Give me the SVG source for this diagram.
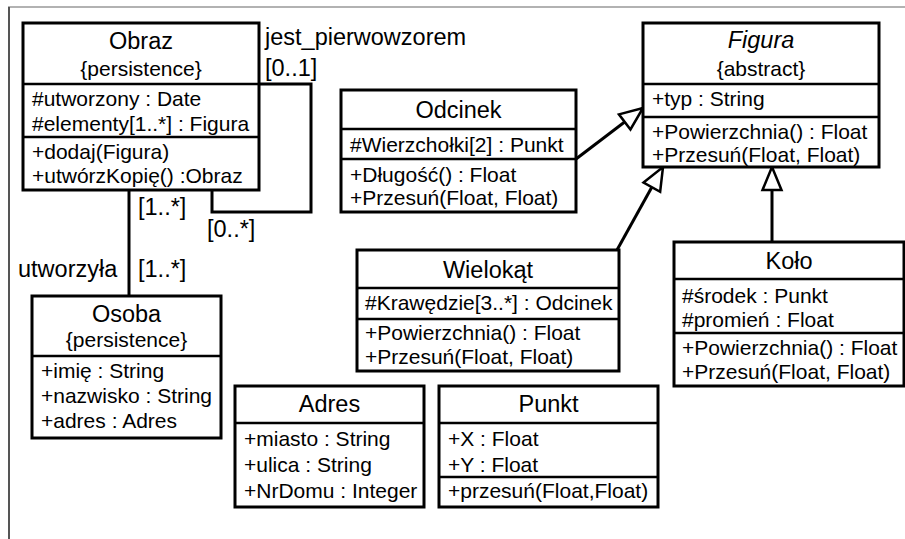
<svg xmlns="http://www.w3.org/2000/svg" width="905" height="539" viewBox="0 0 905 539">
<style>
.box{fill:#fff;stroke:#000;stroke-width:3}
.sep{stroke:#000;stroke-width:2.5}
.t{font-family:"Liberation Sans",Arial,sans-serif;font-size:21px;fill:#000}
.ti{font-size:23.5px;text-anchor:middle}
.c{text-anchor:middle}
.lb{font-size:23.5px}
.con{fill:none;stroke:#000;stroke-width:3}
</style>
<defs>
<marker id="gen" markerUnits="userSpaceOnUse" markerWidth="28" markerHeight="24" viewBox="0 0 28 24" refX="25" refY="12" orient="auto">
<path d="M2,2.5 L25,12 L2,21.5 Z" fill="#fff" stroke="#000" stroke-width="2.5" stroke-linejoin="miter"/>
</marker>
</defs>
<rect width="905" height="539" fill="#fff"/>
<g id="frame">
<line x1="8" y1="7" x2="905" y2="7" stroke="#999" stroke-width="1.5"/>
<line x1="9" y1="7" x2="9" y2="539" stroke="#555" stroke-width="2"/>
</g>
<g id="connectors">
<polyline class="con" points="259,84 311,84 311,212 212,212 212,190"/>
<line class="con" x1="129" y1="190" x2="129" y2="296"/>
<line class="con" x1="576" y1="159" x2="643" y2="108" marker-end="url(#gen)"/>
<line class="con" x1="617" y1="250" x2="663" y2="167" marker-end="url(#gen)"/>
<line class="con" x1="772" y1="242" x2="772" y2="167" marker-end="url(#gen)"/>
<text class="t lb" x="265" y="45">jest_pierwowzorem</text>
<text class="t lb" x="265" y="76">[0..1]</text>
<text class="t lb" x="138" y="215">[1..*]</text>
<text class="t lb" x="207" y="237">[0..*]</text>
<text class="t lb" x="18" y="277">utworzyła</text>
<text class="t lb" x="138" y="277">[1..*]</text>
</g>
<g id="Obraz">
<rect class="box" x="23" y="23" width="236" height="167"/>
<line class="sep" x1="23" y1="84" x2="259" y2="84"/>
<line class="sep" x1="23" y1="137" x2="259" y2="137"/>
<text class="t ti" x="141" y="49">Obraz</text>
<text class="t c" x="141" y="76">{persistence}</text>
<text class="t" x="32" y="106">#utworzony : Date</text>
<text class="t" x="32" y="131">#elementy[1..*] : Figura</text>
<text class="t" x="32" y="159">+dodaj(Figura)</text>
<text class="t" x="32" y="183">+utwórzKopię() :Obraz</text>
</g>
<g id="Osoba">
<rect class="box" x="32" y="296" width="189" height="142"/>
<line class="sep" x1="32" y1="356" x2="221" y2="356"/>
<text class="t ti" x="126.5" y="322">Osoba</text>
<text class="t c" x="126.5" y="347">{persistence}</text>
<text class="t" x="41" y="378">+imię : String</text>
<text class="t" x="41" y="403">+nazwisko : String</text>
<text class="t" x="41" y="428">+adres : Adres</text>
</g>
<g id="Odcinek">
<rect class="box" x="341" y="90" width="235" height="122"/>
<line class="sep" x1="341" y1="129" x2="576" y2="129"/>
<line class="sep" x1="341" y1="159" x2="576" y2="159"/>
<text class="t ti" x="458.5" y="118">Odcinek</text>
<text class="t" x="350" y="152">#Wierzchołki[2] : Punkt</text>
<text class="t" x="350" y="182">+Długość() : Float</text>
<text class="t" x="350" y="205">+Przesuń(Float, Float)</text>
</g>
<g id="Figura">
<rect class="box" x="643" y="23" width="236" height="144"/>
<line class="sep" x1="643" y1="84" x2="879" y2="84"/>
<line class="sep" x1="643" y1="117" x2="879" y2="117"/>
<text class="t ti" x="761" y="48" font-style="italic">Figura</text>
<text class="t c" x="761" y="76">{abstract}</text>
<text class="t" x="652" y="106">+typ : String</text>
<text class="t" x="652" y="139">+Powierzchnia() : Float</text>
<text class="t" x="652" y="162">+Przesuń(Float, Float)</text>
</g>
<g id="Wielokat">
<rect class="box" x="357" y="250" width="262" height="121"/>
<line class="sep" x1="357" y1="288" x2="619" y2="288"/>
<line class="sep" x1="357" y1="319" x2="619" y2="319"/>
<text class="t ti" x="488" y="278">Wielokąt</text>
<text class="t" x="365" y="310">#Krawędzie[3..*] : Odcinek</text>
<text class="t" x="365" y="340">+Powierzchnia() : Float</text>
<text class="t" x="365" y="364">+Przesuń(Float, Float)</text>
</g>
<g id="Kolo">
<rect class="box" x="674" y="242" width="230" height="144"/>
<line class="sep" x1="674" y1="279" x2="904" y2="279"/>
<line class="sep" x1="674" y1="333" x2="904" y2="333"/>
<text class="t ti" x="789" y="269">Koło</text>
<text class="t" x="682" y="303">#środek : Punkt</text>
<text class="t" x="682" y="327">#promień : Float</text>
<text class="t" x="682" y="355">+Powierzchnia() : Float</text>
<text class="t" x="682" y="379">+Przesuń(Float, Float)</text>
</g>
<g id="Adres">
<rect class="box" x="235" y="386" width="189" height="121"/>
<line class="sep" x1="235" y1="423" x2="424" y2="423"/>
<text class="t ti" x="329.5" y="412">Adres</text>
<text class="t" x="244" y="446">+miasto : String</text>
<text class="t" x="244" y="472">+ulica : String</text>
<text class="t" x="244" y="498">+NrDomu : Integer</text>
</g>
<g id="Punkt">
<rect class="box" x="439" y="386" width="219" height="121"/>
<line class="sep" x1="439" y1="423" x2="658" y2="423"/>
<line class="sep" x1="439" y1="477" x2="658" y2="477"/>
<text class="t ti" x="548.5" y="412">Punkt</text>
<text class="t" x="448" y="446">+X : Float</text>
<text class="t" x="448" y="472">+Y : Float</text>
<text class="t" x="448" y="498">+przesuń(Float,Float)</text>
</g>
</svg>
